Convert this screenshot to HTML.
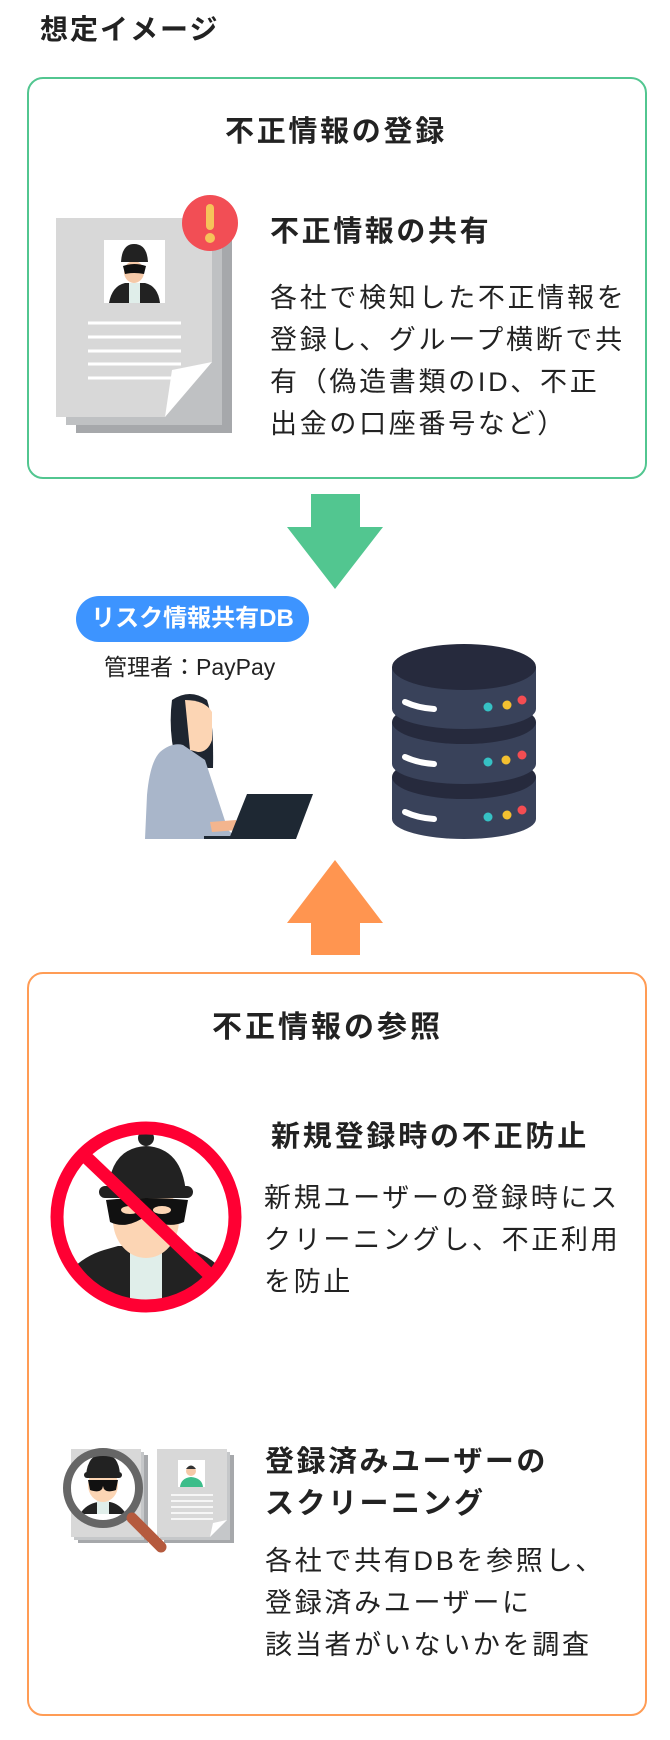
<!DOCTYPE html>
<html><head><meta charset="utf-8"><style>
body{margin:0;width:670px;height:1740px;background:#fff;position:relative;overflow:hidden;font-family:"Liberation Sans","Noto Sans CJK JP",sans-serif;color:#222}
.a{position:absolute;white-space:nowrap}
.b{font-weight:bold}
.box{position:absolute;border-radius:16px;box-sizing:border-box}
.body{font-size:27px;letter-spacing:2.7px;line-height:42px}
</style></head><body>
<div class="a b" style="left:40px;top:13px;font-size:28px;line-height:34px;letter-spacing:2px">想定イメージ</div>

<div class="box" style="left:27px;top:77px;width:620px;height:402px;border:2px solid #52c690"></div>
<div class="a b" style="left:225px;top:115px;font-size:29px;line-height:34px;letter-spacing:2.7px">不正情報の登録</div>

<svg class="a" style="left:0;top:0" width="670" height="980">
<rect x="76" y="233" width="156" height="200" fill="#a6a8ab"/>
<rect x="66" y="226" width="156" height="199" fill="#bfc1c3"/>
<path d="M56 218 H212 V362 L165 417 H56Z" fill="#d8d8d8"/>
<path d="M212 362 L165 417 L172 370Z" fill="#fff"/>
<rect x="104" y="240" width="61" height="63" fill="#fff"/>
<path d="M109 303 Q112 286 125 283 L145 283 Q158 286 160 303Z" fill="#222"/>
<rect x="129" y="283" width="11" height="20" fill="#e0eeea"/>
<ellipse cx="134" cy="272" rx="10" ry="11" fill="#f5c9a8"/>
<path d="M121 262 Q122 244 134 244 Q147 244 148 262Z" fill="#222"/>
<path d="M123 266 Q134 262 146 266 L144 274 Q134 272 125 274Z" fill="#111"/>
<g stroke="#fff" stroke-width="3"><line x1="88" y1="323" x2="181" y2="323"/><line x1="88" y1="337" x2="181" y2="337"/><line x1="88" y1="351" x2="181" y2="351"/><line x1="88" y1="364" x2="181" y2="364"/><line x1="88" y1="378" x2="181" y2="378"/></g>
<circle cx="210" cy="223" r="28" fill="#f24e55"/>
<rect x="206" y="204" width="8" height="26" rx="4" fill="#f6c35a"/>
<circle cx="210" cy="238" r="5" fill="#f6c35a"/>

<path d="M311 494 H360 V527 H383 L335 589 L287 527 H311Z" fill="#52c690"/>
<path d="M335 860 L383 923 H360 V955 H311 V923 H287Z" fill="#ff9550"/>

<!-- woman -->
<path d="M172 700 Q190 688 207 700 Q214 720 213 768 L188 768 L176 762 Q168 730 172 700Z" fill="#1e2530"/>
<path d="M185 700 Q205 700 212 712 L212 740 Q208 752 198 752 L190 750 Z" fill="#fcd5b4"/>
<path d="M160 752 Q172 742 183 745 L205 760 L228 830 L238 839 L145 839 L147 795 Q150 762 160 752Z" fill="#a9b6ca"/>
<path d="M210 822 L236 820 L238 830 L212 832Z" fill="#f3b58e"/>
<path d="M247 794 H313 L296 839 H229Z" fill="#1e2833"/>
<rect x="204" y="836" width="90" height="3" fill="#1e2833"/>

<!-- db -->
<g>
<path d="M392 777 V819 A72 20 0 0 0 536 819 V777Z" fill="#39425a"/>
<ellipse cx="464" cy="777" rx="72" ry="22" fill="#262a3d"/>
<path d="M392 722 V764 A72 20 0 0 0 536 764 V722Z" fill="#39425a"/>
<ellipse cx="464" cy="722" rx="72" ry="22" fill="#262a3d"/>
<path d="M392 667 V709 A72 20 0 0 0 536 709 V667Z" fill="#39425a"/>
<ellipse cx="464" cy="667" rx="72" ry="23" fill="#262a3d"/>
</g>
<g stroke="#fff" stroke-width="6" stroke-linecap="round" fill="none">
<path d="M405 702 Q418 708 434 709"/><path d="M405 757 Q418 763 434 764"/><path d="M405 812 Q418 818 434 819"/>
</g>
<g><circle cx="488" cy="707" r="4.5" fill="#36c1c4"/><circle cx="507" cy="705" r="4.5" fill="#f3c030"/><circle cx="522" cy="700" r="4.5" fill="#f44d52"/>
<circle cx="488" cy="762" r="4.5" fill="#36c1c4"/><circle cx="506" cy="760" r="4.5" fill="#f3c030"/><circle cx="522" cy="755" r="4.5" fill="#f44d52"/>
<circle cx="488" cy="817" r="4.5" fill="#36c1c4"/><circle cx="507" cy="815" r="4.5" fill="#f3c030"/><circle cx="522" cy="810" r="4.5" fill="#f44d52"/></g>
</svg>

<div class="a b" style="left:270px;top:215px;font-size:29px;line-height:34px;letter-spacing:2.6px">不正情報の共有</div>
<div class="a body" style="left:270px;top:277px">各社で検知した不正情報を<br>登録し、グループ横断で共<br>有（偽造書類のID、不正<br>出金の口座番号など）</div>

<div class="a" style="left:76px;top:596px;width:233px;height:46px;border-radius:23px;background:#3d94ff"></div>
<div class="a b" style="left:76px;top:604px;width:233px;text-align:center;color:#fff;font-size:24px;line-height:30px">リスク情報共有DB</div>
<div class="a" style="left:104px;top:653px;font-size:23px;line-height:28px">管理者：PayPay</div>

<div class="box" style="left:27px;top:972px;width:620px;height:744px;border:2px solid #ff9c55"></div>
<div class="a b" style="left:212px;top:1011px;font-size:30px;line-height:34px;letter-spacing:3px">不正情報の参照</div>

<svg class="a" style="left:0;top:1100px" width="260" height="480">
<defs><clipPath id="cc"><circle cx="146" cy="117" r="89"/></clipPath></defs>
<g clip-path="url(#cc)">
<path d="M50 200 Q70 160 104 150 L118 146 L174 146 L190 150 Q222 158 242 200 L242 215 L50 215Z" fill="#222"/>
<rect x="130" y="150" width="32" height="65" fill="#e0eeea"/>
<rect x="132" y="130" width="28" height="20" fill="#f3c4a4"/>
<ellipse cx="146" cy="120" rx="33" ry="38" fill="#fcd5b4"/>
<path d="M108 93 Q110 48 146 46 Q182 48 186 93Z" fill="#222"/>
<circle cx="146" cy="38" r="8" fill="#222"/>
<rect x="99" y="86" width="94" height="12" rx="6" fill="#222"/>
<path d="M106 100 Q146 96 188 100 L184 122 Q166 130 146 116 Q126 130 110 122Z" fill="#111"/>
<ellipse cx="130" cy="110" rx="9" ry="4" fill="#fcd5b4"/><ellipse cx="162" cy="110" rx="9" ry="4" fill="#fcd5b4"/>
</g>
<circle cx="146" cy="117" r="89" fill="none" stroke="#ff0033" stroke-width="13"/>
<line x1="85" y1="56" x2="212" y2="177" stroke="#ff0033" stroke-width="13"/>
</svg>

<div class="a b" style="left:271px;top:1120px;font-size:29px;line-height:34px;letter-spacing:2.8px">新規登録時の不正防止</div>
<div class="a body" style="left:264px;top:1177px">新規ユーザーの登録時にス<br>クリーニングし、不正利用<br>を防止</div>

<svg class="a" style="left:0;top:1440px" width="260" height="130">
<rect x="78" y="15" width="70" height="88" fill="#a6a8ab"/><rect x="74" y="12" width="70" height="88" fill="#c5c7c9"/><rect x="71" y="9" width="70" height="88" fill="#d8d8d8"/>
<rect x="164" y="15" width="70" height="88" fill="#a6a8ab"/><rect x="160" y="12" width="70" height="88" fill="#c5c7c9"/>
<path d="M157 9 H227 V80 L210 97 H157Z" fill="#d8d8d8"/><path d="M227 80 L210 97 L213 83Z" fill="#fff"/>
<rect x="178" y="20" width="27" height="27" fill="#fff"/>
<path d="M180 47 Q181 38 191 37 Q202 38 203 47Z" fill="#3cbd8a"/>
<circle cx="191" cy="31" r="5" fill="#f5c9a8"/><path d="M186 29 Q191 22 196 29Z" fill="#333"/>
<g stroke="#fff" stroke-width="1.5"><line x1="171" y1="55" x2="213" y2="55"/><line x1="171" y1="61" x2="213" y2="61"/><line x1="171" y1="67" x2="213" y2="67"/><line x1="171" y1="73" x2="213" y2="73"/><line x1="171" y1="79" x2="213" y2="79"/></g>
<circle cx="103" cy="48" r="36" fill="#fff"/>
<path d="M80 74 Q86 64 98 62 L110 62 Q120 64 126 74Z" fill="#222"/><rect x="97" y="60" width="12" height="14" fill="#e0eeea"/>
<ellipse cx="103" cy="45" rx="15" ry="17" fill="#fcd5b4"/>
<path d="M86 35 Q88 14 103 14 Q119 14 120 35Z" fill="#222"/><rect x="84" y="32" width="38" height="6" rx="3" fill="#222"/>
<path d="M88 40 H118 L116 50 Q104 54 103 46 Q102 54 90 50Z" fill="#111"/>
<circle cx="103" cy="48" r="36" fill="none" stroke="#666" stroke-width="8"/>
<line x1="132" y1="78" x2="161" y2="107" stroke="#b55a3e" stroke-width="11" stroke-linecap="round"/>
</svg>

<div class="a b" style="left:265px;top:1441px;font-size:29px;line-height:42px;letter-spacing:2.5px">登録済みユーザーの<br>スクリーニング</div>
<div class="a body" style="left:265px;top:1540px">各社で共有DBを参照し、<br>登録済みユーザーに<br>該当者がいないかを調査</div>
</body></html>
